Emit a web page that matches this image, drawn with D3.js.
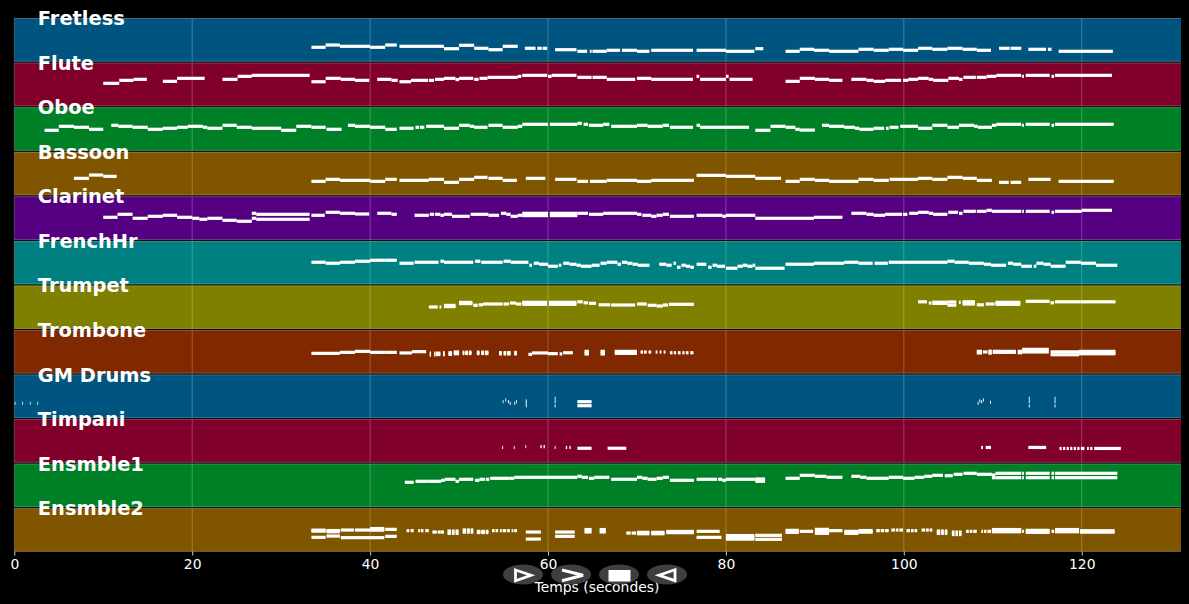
<!DOCTYPE html>
<html><head><meta charset="utf-8">
<script src="https://cdn.jsdelivr.net/npm/d3@7"></script>
<style>html,body{margin:0;padding:0;background:#000}svg{display:block}text{font-family:"DejaVu Sans",sans-serif}</style>
</head><body><svg id="c" width="1189" height="604"></svg>
<script>
const trackNames=["Fretless","Flute","Oboe","Bassoon","Clarinet","FrenchHr","Trumpet","Trombone","GM Drums","Timpani","Ensmble1","Ensmble2"];
const trackColors=["#005580","#80002b","#008026","#805500","#550080","#008080","#808000","#802800","#005580","#80002b","#008026","#805500"];
const tickValues=[0,20,40,60,80,100,120];
const xLabel="Temps (secondes)";
// each note: [start seconds, end seconds, pitch height within the track]
const fretless=[[33.4,35,14.2],[35,36.6,16.5],[36.6,40,15.2],[40,41.7,14.2],[41.7,43,16.5],[43.3,48.3,15.2],[48.3,50,12.8],[50,51.7,16.2],[51.7,53.3,13.2],[53.3,54.9,11.8],[54.9,56.6,15.2],[57.4,58.6,13.2],[58.8,59.3,13.2],[59.4,59.9,13.2],[60.8,63.2,11.8],[63.3,64.4,10.2],[64.7,64.9,10.2],[65,66.6,10.2],[66.6,68.1,11.2],[68.3,70,11.2],[70,71.4,10.2],[71.6,76.3,11.2],[76.7,80,11.2],[80,83.2,10.2],[83.3,84.2,12.8],[86.7,88.3,10.2],[88.3,89.9,12.2],[89.9,91.6,11.2],[91.6,94.9,10.2],[94.9,96.6,12.2],[96.6,98.3,11.2],[98.3,99.9,12.2],[99.9,101.6,11.2],[101.6,103.2,13.2],[103.2,104.9,12.2],[104.9,106.6,13.2],[106.6,108.2,12.2],[108.2,109.8,11.2],[110.7,111.9,13.2],[112,113.2,13.2],[114,116,12.2],[116.2,116.6,12.2],[117.4,123.5,10.2]];
const flute=[[10,11.8,22.7],[11.8,13.4,25.7],[13.4,14.9,26.7],[16.7,18.3,24.7],[18.3,21.4,27.7],[23.4,25.1,26.7],[25.1,26.7,29.7],[26.7,33.2,30.7],[33.4,35,24.3],[35,36.7,27.7],[36.7,38.3,26.7],[38.3,39.9,25.7],[40.8,42.4,26.7],[42.4,43.1,25.7],[43.3,44.6,24.3],[44.6,46.5,25.7],[46.6,47.2,25.7],[47.3,48.3,26.7],[48.3,49.6,27.7],[49.6,50,26.5],[50,51.6,27.7],[51.7,52.2,26.7],[52.3,53.2,27.7],[53.2,56.6,28.7],[56.6,57,29.7],[57.1,59.9,30.7],[60,60.4,29.7],[60.4,63.2,30.7],[63.3,64.9,28.7],[65,66.6,28.7],[66.6,69.8,26.7],[70,71.6,27.7],[71.6,76.3,26.7],[76.7,77,29.7],[77.1,80,26.7],[80,80.3,29.7],[80.4,83,26.7],[86.7,88.3,24.7],[88.3,90,27.7],[90,91.6,26.7],[91.6,93.1,25.7],[94.1,95.8,26.7],[95.8,96.6,25.7],[96.6,97.9,24.7],[97.9,99.7,25.7],[99.9,100.5,25.7],[100.5,101.6,26.7],[101.6,102.8,27.7],[102.8,103.3,26.7],[103.3,105,25.7],[105,106.2,27.7],[106.2,106.6,26.7],[106.7,108.1,28.7],[108.2,109.3,28.7],[109.3,110.4,29.7],[110.4,113.2,30.7],[113.3,113.5,29.7],[113.7,116.4,30.7],[116.6,116.9,29.7],[117,123.4,30.7]];
const oboe=[[3.4,5,20.3],[5,6.7,24.3],[6.7,8.4,23.3],[8.4,10,21.3],[10.9,11.7,25.3],[11.7,13.3,24.3],[13.3,15,23.3],[15,16.7,21.3],[16.7,18.3,22.3],[18.3,19.5,23.3],[19.5,21.2,24.3],[21.2,21.7,23.3],[21.7,23.4,22.3],[23.4,25,25.3],[25,26.7,23.3],[26.7,30,22.3],[30,31.7,20.3],[31.7,33.4,24.3],[33.4,35,23.3],[35.1,36.8,21.3],[37.5,38.3,25.3],[38.3,40,24.3],[40,41.7,23.3],[41.7,43,21.3],[43.3,44.9,22.3],[45.1,45.5,23.3],[45.6,46.1,23.3],[46.3,48.3,24.3],[48.3,50,22.3],[50,51.2,25.3],[51.2,51.7,24.3],[51.7,53.2,23.3],[53.3,54.9,25.3],[54.9,56.6,23.3],[56.6,57.1,24.3],[57.1,60,26.3],[60.2,63.3,26.3],[63.3,63.8,27.3],[64,64.5,26.3],[64.6,66.2,25.3],[66.2,66.9,26.3],[67.1,70,24.3],[70,71.2,25.3],[71.2,72.9,24.3],[72.9,73.6,25.3],[73.7,76.3,23.3],[76.7,77.1,25.3],[77.1,82.6,23.3],[83.3,85,20.3],[85,86.7,24.3],[86.7,87.8,23.3],[87.8,88.3,21.3],[88.3,90,20.5],[90.8,91.6,25.3],[91.6,93.3,24.3],[93.3,94.5,23.3],[94.5,95,22.3],[95,96.6,21.3],[96.6,97.8,22.3],[98,98.3,22.3],[98.4,99.4,23.3],[99.6,101.6,24.3],[101.6,103.2,22.3],[103.2,104.9,25.3],[104.9,106.2,23.3],[106.2,107.9,25.3],[107.9,108.3,24.3],[108.3,109.9,23.3],[109.9,110.4,25.3],[110.4,113.2,26.3],[113.3,113.5,25.3],[113.7,116.4,26.3],[116.6,116.9,25.3],[117,123.6,26.3]];
const bassoon=[[6.7,8.4,16.8],[8.4,10,20.1],[10,11.5,18.8],[33.4,35,13.8],[35,36.6,15.8],[36.6,40,14.8],[40,41.7,13.8],[41.7,43,15.8],[43.3,46.6,14.8],[46.6,48.3,15.8],[48.3,50,12.8],[50,51.7,15.8],[51.7,53.2,17.8],[53.3,54.9,16.8],[54.9,56.5,14.8],[57.5,59.7,16.8],[60.8,63.2,15.8],[63.3,64.5,13.8],[64.7,66.6,13.8],[66.6,70,14.8],[70,71.6,13.8],[71.6,76.4,14.8],[76.7,80,19.8],[80,83.3,18.8],[83.3,86.2,16.8],[86.7,88.3,13.8],[88.3,90,15.8],[90,91.6,14.8],[91.6,94.9,13.8],[94.9,96.6,15.8],[96.6,98.3,14.8],[98.4,101.6,15.8],[101.6,103.2,16.8],[103.2,104.9,15.8],[104.9,106.6,17.8],[106.6,108.2,16.8],[108.2,109.9,14.8],[110.7,111.8,12.8],[112,113.2,12.8],[114,116.5,15.8],[117.4,123.6,13.8]];
const clarinet=[[10,11.6,22.4],[11.6,13.3,25.4],[13.3,15,21.4],[15,16.7,23.4],[16.7,18.3,24.4],[18.3,20,22.4],[20,20.8,21.4],[20.8,21.7,20.4],[21.7,23.4,21.4],[23.4,25,19.4],[25,26.7,18.4],[26.7,27.2,26.4],[26.7,27.2,21.4],[27.2,33.2,25.4],[27.2,33.2,20.4],[33.4,34.9,24.4],[35,36.6,27.4],[36.6,38.3,26.4],[38.3,39.9,25.7],[40.8,42.4,26.4],[42.4,43,25.4],[45,46.6,24.4],[46.7,47.2,25.4],[47.3,47.9,25.4],[47.9,48.3,24.4],[48.3,49.2,25.4],[49.2,51.2,23.4],[51.3,53.3,25.4],[53.3,54.5,24.4],[54.7,55.3,26.4],[55.3,55.8,25.4],[55.8,56.6,23.4],[56.6,57.1,24.4],[57.1,60,26.4],[57.1,60,24.1],[60.2,63.3,26.4],[60.2,63.3,24.1],[63.3,64.5,26.4],[64.6,66.2,25.4],[66.2,70,26.4],[70,70.5,25.4],[70.6,71.6,24.4],[71.6,72.2,23.4],[72.2,72.9,24.4],[72.9,73.6,25.4],[73.7,76.4,23.4],[76.7,79.6,24.4],[79.6,80,23.4],[80,83.3,24.4],[83.3,89.9,21.4],[89.9,93.1,22.4],[94.1,95.8,26.4],[95.8,96.6,25.4],[96.6,97.9,24.4],[97.9,99.8,25.4],[99.9,100.4,25.4],[100.6,101.6,26.4],[101.6,102.8,27.4],[102.8,103.3,26.4],[103.3,104.9,25.4],[105,106.1,27.4],[106.2,106.6,26.4],[106.7,108.1,28.4],[108.2,109.3,28.4],[109.3,109.9,29.4],[109.9,113.2,28.4],[113.3,113.5,28.4],[113.7,116.4,28.4],[116.6,116.9,27.4],[117,120,28.4],[120,123.4,29.4]];
const frenchHr=[[33.4,35,22],[35,36.6,21],[36.6,38.3,22],[38.3,40,23],[40,41.7,24],[41.7,43,24],[43.3,44.9,21],[45,47.7,22],[47.9,48.3,23],[48.3,51.6,22],[51.8,52.4,23],[52.5,54.9,22],[55,55.8,23],[55.8,57.8,22],[57.9,58.2,19],[58.4,59,21],[59,60,20],[60,61.1,18],[61.2,61.5,19],[61.7,62.4,21],[62.4,63.2,20],[63.2,63.7,19],[63.7,64.9,18],[64.9,65.8,19],[65.9,66.6,21],[66.6,67.8,22],[67.8,68.2,20],[68.3,68.9,22],[68.9,69.5,21],[69.5,70.1,20],[70.1,71.4,19],[72.5,73.3,20],[73.3,73.9,19],[74.1,74.4,21],[74.5,74.9,17],[75,75.5,19],[75.5,76,18],[76,76.4,17],[76.7,77.8,20],[78,78.4,17],[78.5,79,19],[79,79.9,18],[80,81.3,16],[81.3,81.9,18],[81.9,82.4,19],[82.4,83,18],[83,83.3,19],[83.3,86.6,16],[86.7,89.9,20],[89.9,93.3,21],[93.3,94.9,22],[94.9,96.5,21],[96.7,98.2,21],[98.3,104.9,22],[104.9,105.7,23],[105.7,107.3,22],[107.3,109,21],[109,109.8,20],[109.8,111.5,19],[111.7,112.3,21],[112.3,113.2,20],[113.2,114.4,18],[114.6,114.9,18],[114.9,115.7,21],[115.7,116.5,20],[116.5,118.2,18],[118.2,119.9,22],[119.9,121.6,21],[121.6,124,19]];
const trumpet=[[46.6,47.6,21.8],[47.8,48,21.8],[48.3,49.6,23.4],[48.3,49.6,22.2],[50,51.5,26.4],[50,51.5,25.2],[51.6,52.1,23.5],[52.2,52.7,24],[52.7,54.9,24.8],[55,55.6,24.8],[55.7,56.4,25.8],[56.4,57,24.8],[57.1,59.9,26.5],[57.1,59.9,24.5],[60.1,63.2,26.5],[60.1,63.2,24.5],[63.3,63.9,27],[64,64.5,26],[64.6,65.4,25.5],[65.7,66.3,24],[66.3,67,24],[67.1,69.8,23.8],[70,71.1,24.8],[71.2,72.2,23.5],[72.2,72.9,22.8],[72.9,73.5,23.8],[73.6,76.4,24.5],[101.6,102.6,27],[102.8,103.1,25.8],[103.2,104.9,26.6],[103.2,104.9,25.4],[104.9,105.9,26.8],[104.9,105.9,23.6],[106.2,106.4,26.5],[106.6,108,27],[106.6,108,24.8],[108.2,109,24],[109.2,110.2,24.8],[110.3,113.1,26.5],[110.3,113.1,24.5],[113.7,116.4,27.5],[116.5,116.9,26],[117,119.9,27],[119.9,123.8,27]];
const trombone=[[33.4,36.6,20],[36.6,38.3,21],[38.3,40,22],[40,41.7,21],[41.7,43,21],[43.3,44.7,20.4],[44.7,46.3,21.7],[46.7,46.85,20.3],[46.7,46.85,18.3],[47.2,47.35,20.3],[47.2,47.35,18.3],[47.4,47.9,20.2],[47.4,47.9,18.8],[48.2,48.4,20.6],[48.2,48.4,18.6],[48.8,49.2,20.6],[48.8,49.2,19],[49.4,50,21.4],[49.4,50,19.6],[50.4,50.6,21.2],[50.4,50.6,19.8],[50.7,51,21.2],[50.7,51,19.8],[51.1,51.4,21.2],[51.1,51.4,19.8],[52,52.3,21.2],[52,52.3,19.8],[52.5,52.8,21.2],[52.5,52.8,19.8],[52.9,53.3,21.2],[52.9,53.3,19.8],[54.5,54.8,20.8],[54.5,54.8,19.4],[55,55.3,20.8],[55,55.3,19.4],[55.4,55.8,20.8],[55.4,55.8,19.4],[56.2,56.5,20.9],[56.2,56.5,19.4],[57.8,58.2,19],[58.2,60,20.4],[60,61.1,19.7],[61.3,61.6,19.4],[61.7,62.8,20.6],[64.1,64.6,22],[64.1,64.6,19.4],[65.9,66.4,22],[65.9,66.4,19.4],[67.5,70,22],[67.5,70,20],[70.4,70.7,21.3],[70.8,71.1,21.3],[71.3,71.6,21.3],[72.1,72.3,21.3],[72.55,72.75,21.3],[73,73.2,21.3],[73.7,74,20.6],[74.15,74.4,20.6],[74.6,74.9,20.6],[75.1,75.35,20.6],[75.5,75.8,20.6],[76,76.35,20.6],[108.2,108.8,22],[108.2,108.8,20.4],[108.9,109.4,21.4],[109.5,109.9,22.2],[109.5,109.9,20.2],[110,112.6,22],[110,112.6,21],[112.8,113.3,22],[112.8,113.3,20.6],[113.3,116.3,24],[113.3,116.3,21.4],[116.5,119.7,21.5],[116.5,119.7,18.6],[119.7,123.8,22],[119.7,123.8,19.6]];
const gmDrums=[[0.05,0.13,14.6],[0.9,0.98,14.6],[1.75,1.83,14.6],[2.6,2.68,14.6],[54.9,55,16.2],[55.2,55.3,17.9],[55.5,55.6,16.2],[55.7,55.8,14.6],[56.2,56.3,14.6],[56.4,56.5,16.2],[57.5,57.6,17],[57.5,57.6,14.6],[57.5,57.6,12],[60.75,60.85,19.6],[60.75,60.85,16.2],[60.75,60.85,12],[63.3,64.9,16.2],[63.3,64.9,12.2],[108.3,108.4,14.6],[108.5,108.6,17],[108.7,108.8,16.2],[108.9,109,17.9],[109.7,109.8,15.6],[114.05,114.15,19.6],[114.05,114.15,16.2],[114.05,114.15,12],[116.95,117.05,19.6],[116.95,117.05,16.2],[116.95,117.05,12]];
const timpani=[[54.85,54.95,15],[56.15,56.25,15],[57.45,57.55,15.8],[59.15,59.3,15.8],[59.5,59.65,15.8],[60.75,60.85,15],[62,62.15,15],[62.4,62.55,15],[63.3,64.9,14.2],[66.7,68.8,14.2],[108.7,108.9,15],[109.2,109.8,15],[114,116,15],[117.5,117.75,14],[117.9,118.15,14],[118.3,118.55,14],[118.7,118.95,14],[119.1,119.35,14],[119.5,119.75,14],[119.9,120.3,14],[120.6,120.8,14],[120.95,121.2,14],[121.4,124.4,14]];
const ensmble1=[[43.9,44.9,24.7],[45.1,46.6,25.7],[46.6,48,25.7],[48,48.4,26.7],[48.4,49.6,27.7],[49.6,50,25.7],[50,51.6,27.7],[51.8,52.3,26.7],[52.3,52.9,27.7],[53,53.4,27.7],[53.5,55.7,28.7],[55.7,56.2,28.7],[56.2,63.3,29.7],[63.3,63.8,30.7],[63.8,64.5,29.7],[64.6,65.2,28.7],[65.2,66.2,29.7],[66.2,66.9,29.7],[67.1,70,27.7],[70,70.6,29.7],[70.6,71.2,28.7],[71.2,72.2,27.7],[72.2,72.9,28.7],[72.9,73.6,29.7],[73.7,76.4,26.7],[76.7,79,27.7],[79.1,79.6,27.7],[79.6,80,26.7],[80,83.3,27.7],[83.3,84.4,28],[83.3,84.4,25.7],[86.7,88.3,28.7],[88.3,90,31.7],[90,91.3,30.7],[91.3,93.1,29.7],[94.1,95.1,30.7],[95.1,95.8,29.7],[95.8,98.3,28.7],[98.3,99.9,29.7],[99.9,101.2,28.7],[101.2,102.3,29.7],[102.3,103.2,30.7],[103.2,104.4,31.7],[104.6,105.5,31.3],[105.6,106.6,32.7],[106.7,108.2,33.7],[108.2,109.9,32.7],[109.9,110.3,32],[109.9,110.3,29.3],[110.3,113.2,33.7],[110.3,113.2,29.3],[113.3,113.5,33.7],[113.3,113.5,29.3],[113.7,116.4,33.7],[113.7,116.4,29.3],[116.6,116.9,33.7],[116.6,116.9,29.3],[117,124,33.7],[117,124,29.3]];
const ensmble2=[[33.4,35,21.4],[33.4,35,20.4],[33.4,35,14.2],[35.1,36.6,21],[35.1,36.6,19.8],[35.1,36.6,15.5],[36.7,38.2,21.5],[38.3,40,21.5],[40,41.6,23],[40,41.6,21.4],[41.7,43,22.2],[36.7,41.6,13.9],[41.7,43,15.2],[44.1,44.4,20.9],[44.55,44.9,20.9],[45.4,45.6,20.9],[45.7,46,20.9],[46.2,46.6,20.9],[47,47.5,19.5],[47.6,47.9,19.5],[47.9,48.3,19.5],[48.7,49.1,20.5],[48.7,49.1,18.2],[49.2,49.5,20.5],[49.2,49.5,18.2],[49.6,49.95,20.5],[49.6,49.95,18.2],[50.4,50.8,21.6],[50.4,50.8,19.4],[50.9,51.2,21.6],[50.9,51.2,19.4],[51.3,51.6,21.6],[51.3,51.6,19.4],[52,52.4,20.2],[52,52.4,19],[52.5,52.9,20.2],[52.5,52.9,19],[53,53.3,20.2],[53,53.3,19],[53.7,54,20.9],[54.1,54.4,20.9],[54.6,54.8,20.9],[54.9,55.3,20.9],[55.4,55.7,20.9],[55.9,56.1,20.9],[56.2,56.5,20.9],[57.5,59.2,19.5],[57.5,59.2,12.5],[60.8,63,19.5],[60.8,63,15.2],[64.1,64.9,22],[64.1,64.9,19.6],[65.8,66.5,22],[65.8,66.5,19.6],[68.8,69.3,18.5],[69.4,69.9,18.5],[70,71.4,19.2],[70,71.4,17.8],[71.6,73.1,19.2],[71.6,73.1,17.8],[73.3,76.4,20.1],[73.3,76.4,18.9],[76.7,79.3,20.2],[76.7,79.5,14.2],[80,83.2,16],[80,83.2,14.2],[80,83.2,12.4],[83.3,86.3,16.2],[83.3,86.3,12.2],[86.7,88.2,21.2],[86.7,88.2,19.2],[88.3,89.8,20.2],[90,91.6,22.2],[90,91.6,18.2],[90,91.6,20.2],[91.6,93.1,20.9],[93.3,94.9,20.2],[93.3,94.9,18.2],[94.9,96.5,21],[94.9,96.5,19.4],[96.9,97.3,20.9],[97.4,97.8,20.9],[97.9,98.3,20.9],[98.6,99,21.5],[99.1,99.4,21.5],[99.5,99.9,21.5],[100.3,100.7,20.9],[100.8,101.1,20.9],[101.2,101.5,20.9],[102,102.4,21.5],[102.5,102.8,21.5],[102.9,103.2,21.5],[103.7,104.1,20.5],[103.7,104.1,18.2],[104.2,104.5,20.5],[104.2,104.5,18.2],[104.6,104.9,20.5],[104.6,104.9,18.2],[105.4,105.7,19.5],[105.4,105.7,17],[105.8,106.1,19.5],[105.8,106.1,17],[106.2,106.5,19.5],[106.2,106.5,17],[107,107.3,20.2],[107.4,107.7,20.2],[107.8,108.2,20.2],[108.7,108.9,20.2],[109,109.3,20.2],[109.4,109.8,20.2],[109.9,113.2,22],[109.9,113.2,19.8],[113.3,113.5,20.2],[113.7,116.4,21.2],[113.7,116.4,19.2],[116.6,116.9,20.2],[117,119.7,22],[117,119.7,19.8],[119.8,123.7,20.8],[119.8,123.7,19.4]];
const trackNotes=[fretless,flute,oboe,bassoon,clarinet,frenchHr,trumpet,trombone,gmDrums,timpani,ensmble1,ensmble2];

const svg=d3.select("#c");
const xMax=131.16;
const x=d3.scaleLinear().domain([0,xMax]).range([14.3,1181]);
const band=d3.scaleBand().domain(trackNames).range([18.3,551.55]).paddingInner(0.0303);
const axisY=band(trackNames[11])+band.bandwidth();
const panel=svg.selectAll("g.track").data(trackNames).join("g").attr("class","track")
  .attr("transform",d=>`translate(0,${band(d)})`);
panel.append("rect").attr("x",x(0)).attr("width",x(xMax)-x(0)).attr("height",band.bandwidth())
  .attr("fill",(d,i)=>trackColors[i]);
panel.each(function(){
  const g=d3.select(this);
  g.selectAll("line.grid").data(tickValues).join("line").attr("class","grid")
    .attr("x1",v=>x(v)).attr("x2",v=>x(v)).attr("y1",0).attr("y2",band.bandwidth())
    .attr("stroke","#fff").attr("stroke-opacity",0.3).attr("stroke-width",0.8);
  g.append("line").attr("x1",x(0)).attr("x2",x(xMax)).attr("y1",0.2).attr("y2",0.2)
    .attr("stroke","#fff").attr("stroke-opacity",0.3).attr("stroke-width",0.8);
  g.append("line").attr("x1",x(0)).attr("x2",x(xMax)).attr("y1",band.bandwidth()-0.2).attr("y2",band.bandwidth()-0.2)
    .attr("stroke","#fff").attr("stroke-opacity",0.3).attr("stroke-width",0.8);
});
const y=d3.scaleLinear().domain([0,43.2]).range([band.bandwidth(),0]);
panel.each(function(d,i){
  d3.select(this).selectAll("rect.note").data(trackNotes[i]).join("rect").attr("class","note")
    .attr("x",n=>x(n[0])).attr("width",n=>x(n[1])-x(n[0])).attr("y",n=>y(n[2])-1.6).attr("height",3.2)
    .attr("fill","#fff");
});
panel.append("text").attr("x",x(2.65)).attr("y",6.8).text(d=>d)
  .attr("fill","#fff").attr("font-size",19.4).attr("font-weight","bold");

const axis=svg.append("g").attr("transform",`translate(0,${axisY})`)
  .call(d3.axisBottom(x).tickValues(tickValues).tickSize(4).tickPadding(4).tickFormat(d3.format("d")));
axis.select(".domain").remove();
axis.selectAll("line").attr("stroke","#fff").attr("stroke-width",0.8);
axis.selectAll("text").attr("fill","#fff").attr("font-size",13.9).attr("font-family","DejaVu Sans");

svg.append("text").attr("x",597).attr("y",592).attr("text-anchor","middle").attr("fill","#fff")
  .attr("font-size",13.9).text(xLabel);

const buttons=svg.append("g");
[523,571,619,667].forEach(cx=>buttons.append("ellipse").attr("cx",cx).attr("cy",574.5).attr("rx",20).attr("ry",10).attr("fill","#444").attr("fill-opacity",0.92));
buttons.append("path").attr("d","M515.5 570L531 575.3L515.5 580.7Z").attr("fill","none").attr("stroke","#fff").attr("stroke-width",2.8);
buttons.append("path").attr("d","M562 570L583 575.3L562 580.7").attr("fill","none").attr("stroke","#fff").attr("stroke-width",3.2);
buttons.append("rect").attr("x",608.5).attr("y",570).attr("width",22).attr("height",11.5).attr("fill","#fff");
buttons.append("path").attr("d","M675 569.8L659 575.3L675 580.7Z").attr("fill","none").attr("stroke","#fff").attr("stroke-width",2.8);
</script></body></html>
